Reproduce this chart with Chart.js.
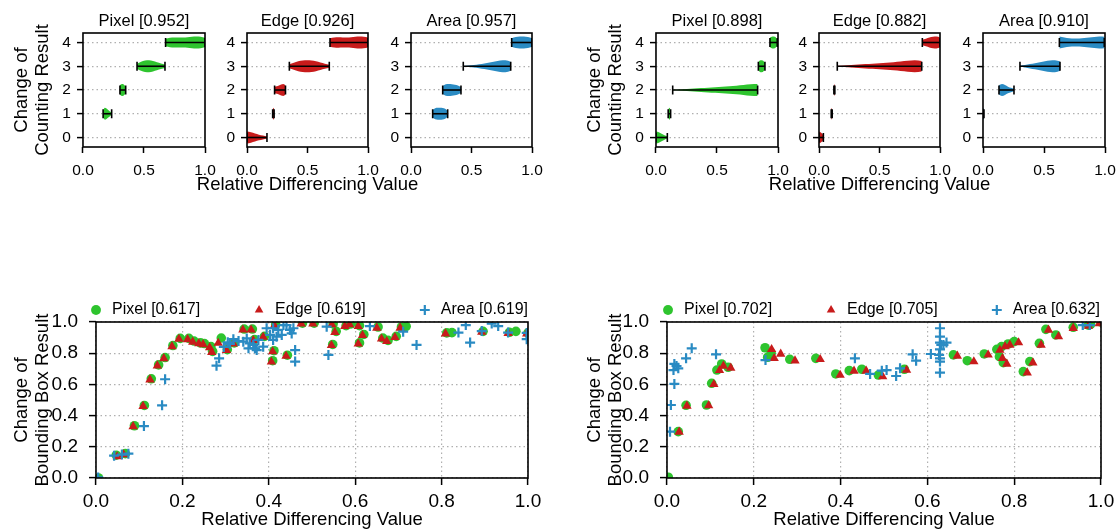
<!DOCTYPE html>
<html>
<head>
<meta charset="utf-8">
<script src="https://cdn.jsdelivr.net/npm/chart.js@4.4.1/dist/chart.umd.min.js"></script>
<style>
  html, body { margin: 0; padding: 0; background: #fff; width: 1118px; height: 531px; overflow: hidden; position: relative; }
  canvas { position: absolute; }
</style>
</head>
<body>
<script>
// ---------- shared ticks / labels ----------
const countLevels = [0, 1, 2, 3, 4];
const violinXTicks = [0, 0.5, 1.0];
const scatterTicks = [0, 0.2, 0.4, 0.6, 0.8, 1.0];
const violinTitles = ['Pixel [0.952]', 'Edge [0.926]', 'Area [0.957]', 'Pixel [0.898]', 'Edge [0.882]', 'Area [0.910]'];
const scatterLabelsA = ['Pixel [0.617]', 'Edge [0.619]', 'Area [0.619]'];
const scatterLabelsB = ['Pixel [0.702]', 'Edge [0.705]', 'Area [0.632]'];

// ---------- violins: extent (min/max) and half-width profile per counting change ----------
// half-widths are in count units, sampled evenly from min to max (0.25 = widest)
const pixelAMin = [null, 0.165, 0.303, 0.443, 0.677];
const pixelAMax = [null, 0.235, 0.350, 0.672, 1.000];
const pixelAShape = [null,
  [0.14, 0.25, 0.22, 0.16, 0.10, 0.05],
  [0.20, 0.25, 0.23, 0.14],
  [0.10, 0.19, 0.24, 0.25, 0.22, 0.17, 0.12, 0.07],
  [0.16, 0.20, 0.21, 0.21, 0.21, 0.22, 0.24, 0.25, 0.24, 0.20]];

const edgeAMin = [0.000, 0.212, 0.228, 0.350, 0.686];
const edgeAMax = [0.165, 0.224, 0.318, 0.680, 1.000];
const edgeAShape = [
  [0.25, 0.22, 0.17, 0.12, 0.08, 0.04],
  [0.18, 0.25, 0.18],
  [0.14, 0.16, 0.19, 0.23, 0.25, 0.20],
  [0.08, 0.15, 0.21, 0.24, 0.25, 0.24, 0.21, 0.16, 0.11, 0.06],
  [0.18, 0.21, 0.22, 0.21, 0.21, 0.22, 0.24, 0.25, 0.24, 0.21]];

const areaAMin = [null, 0.179, 0.262, 0.432, 0.832];
const areaAMax = [null, 0.303, 0.413, 0.824, 1.000];
const areaAShape = [null,
  [0.16, 0.23, 0.25, 0.25, 0.24, 0.21, 0.12],
  [0.17, 0.24, 0.25, 0.24, 0.22, 0.19, 0.12],
  [0.01, 0.03, 0.05, 0.08, 0.12, 0.16, 0.20, 0.24, 0.25, 0.19],
  [0.18, 0.23, 0.25, 0.25, 0.23, 0.18]];

const pixelBMin = [0.000, 0.100, 0.137, 0.839, 0.934];
const pixelBMax = [0.093, 0.120, 0.833, 0.893, 0.994];
const pixelBShape = [
  [0.25, 0.22, 0.16, 0.09, 0.04],
  [0.16, 0.25, 0.16],
  [0.01, 0.02, 0.04, 0.06, 0.08, 0.10, 0.12, 0.14, 0.16, 0.18, 0.21, 0.24, 0.25],
  [0.18, 0.25, 0.24, 0.15],
  [0.20, 0.25, 0.24, 0.14]];

const edgeBMin = [0.000, 0.101, 0.123, 0.151, 0.854];
const edgeBMax = [0.036, 0.109, 0.131, 0.849, 1.000];
const edgeBShape = [
  [0.25, 0.20, 0.10],
  [0.18, 0.25, 0.18],
  [0.18, 0.25, 0.18],
  [0.02, 0.03, 0.05, 0.07, 0.09, 0.11, 0.13, 0.15, 0.17, 0.20, 0.23, 0.25, 0.22],
  [0.12, 0.16, 0.21, 0.24, 0.25, 0.21]];

const areaBMin = [null, 0.000, 0.131, 0.303, 0.626];
const areaBMax = [null, 0.008, 0.254, 0.631, 0.994];
const areaBShape = [null,
  [0.18, 0.25, 0.18],
  [0.20, 0.25, 0.21, 0.14, 0.09, 0.05],
  [0.02, 0.05, 0.09, 0.13, 0.17, 0.21, 0.24, 0.25, 0.20],
  [0.25, 0.21, 0.18, 0.17, 0.17, 0.19, 0.21, 0.23, 0.25, 0.24]];

// ---------- bounding-box change vs relative differencing value ----------
const pixelAPoints = [[0.006,0.000],[0.047,0.146],[0.068,0.156],[0.089,0.335],[0.112,0.465],[0.128,0.636],[0.145,0.725],[0.160,0.772],[0.178,0.849],[0.195,0.895],[0.215,0.895],[0.227,0.878],[0.242,0.866],[0.251,0.862],[0.266,0.842],[0.270,0.812],[0.290,0.897],[0.304,0.823],[0.320,0.866],[0.343,0.955],[0.362,0.955],[0.367,0.887],[0.390,0.908],[0.409,0.752],[0.412,0.816],[0.416,0.982],[0.443,0.787],[0.478,0.993],[0.505,0.993],[0.548,0.856],[0.556,0.940],[0.549,0.988],[0.579,0.977],[0.590,0.988],[0.610,0.866],[0.620,0.920],[0.610,0.977],[0.653,0.968],[0.664,0.897],[0.676,0.882],[0.695,0.908],[0.707,0.968],[0.718,0.972],[0.812,0.930],[0.824,0.932],[0.896,0.940],[0.957,0.934],[0.972,0.940],[1.000,0.930]];
const edgeAPoints = [[0.049,0.137],[0.064,0.150],[0.086,0.330],[0.109,0.460],[0.125,0.630],[0.142,0.720],[0.157,0.766],[0.176,0.843],[0.192,0.890],[0.212,0.888],[0.224,0.872],[0.238,0.862],[0.248,0.856],[0.263,0.836],[0.268,0.806],[0.283,0.865],[0.302,0.818],[0.318,0.861],[0.340,0.950],[0.359,0.950],[0.364,0.882],[0.387,0.903],[0.406,0.745],[0.409,0.810],[0.413,0.977],[0.440,0.781],[0.475,0.988],[0.502,0.988],[0.545,0.850],[0.553,0.934],[0.546,0.983],[0.576,0.972],[0.587,0.983],[0.607,0.860],[0.617,0.914],[0.607,0.972],[0.650,0.962],[0.661,0.892],[0.673,0.876],[0.692,0.902],[0.704,0.962],[0.809,0.925],[0.893,0.935],[0.954,0.928],[0.997,0.925]];
const areaAPoints = [[0.005,0.004],[0.042,0.143],[0.060,0.150],[0.075,0.156],[0.111,0.333],[0.153,0.466],[0.160,0.633],[0.279,0.720],[0.285,0.767],[0.296,0.840],[0.305,0.870],[0.310,0.860],[0.318,0.890],[0.330,0.878],[0.341,0.874],[0.349,0.895],[0.353,0.831],[0.356,0.863],[0.364,0.853],[0.368,0.831],[0.372,0.820],[0.376,0.885],[0.387,0.842],[0.395,0.960],[0.403,0.917],[0.410,0.960],[0.410,0.885],[0.418,0.906],[0.422,0.949],[0.430,0.917],[0.434,0.980],[0.441,0.980],[0.449,0.949],[0.453,0.927],[0.457,0.960],[0.461,0.820],[0.461,0.746],[0.534,0.970],[0.538,0.789],[0.634,0.974],[0.711,0.938],[0.742,0.853],[0.839,0.932],[0.856,0.980],[0.866,0.868],[0.893,0.942],[0.916,0.990],[0.931,0.974],[0.954,0.932],[0.997,0.890],[0.997,0.930]];

const pixelBPoints = [[0.003,0.005],[0.026,0.297],[0.044,0.466],[0.091,0.468],[0.103,0.607],[0.115,0.692],[0.126,0.731],[0.141,0.710],[0.226,0.835],[0.232,0.774],[0.240,0.800],[0.283,0.761],[0.343,0.767],[0.389,0.667],[0.420,0.688],[0.449,0.697],[0.487,0.660],[0.547,0.697],[0.660,0.789],[0.692,0.752],[0.731,0.795],[0.760,0.825],[0.766,0.778],[0.775,0.739],[0.771,0.842],[0.786,0.859],[0.800,0.874],[0.821,0.682],[0.836,0.746],[0.858,0.863],[0.873,0.953],[0.896,0.917],[0.936,0.966],[0.971,0.980],[0.976,0.985],[1.000,1.000]];
const edgeBPoints = [[0.028,0.295],[0.046,0.462],[0.096,0.464],[0.108,0.600],[0.121,0.690],[0.130,0.718],[0.147,0.705],[0.241,0.825],[0.247,0.767],[0.262,0.795],[0.295,0.752],[0.353,0.761],[0.399,0.660],[0.431,0.686],[0.459,0.686],[0.497,0.650],[0.552,0.692],[0.669,0.782],[0.707,0.746],[0.740,0.789],[0.767,0.820],[0.773,0.767],[0.783,0.731],[0.779,0.842],[0.790,0.853],[0.810,0.868],[0.830,0.675],[0.843,0.739],[0.862,0.853],[0.879,0.949],[0.902,0.906],[0.936,0.960],[0.971,0.974],[0.996,0.990]];
const areaBPoints = [[0.007,0.297],[0.009,0.468],[0.017,0.603],[0.015,0.692],[0.022,0.718],[0.026,0.703],[0.017,0.731],[0.044,0.767],[0.057,0.831],[0.113,0.793],[0.227,0.756],[0.433,0.767],[0.468,0.667],[0.495,0.688],[0.506,0.692],[0.528,0.654],[0.537,0.703],[0.566,0.793],[0.574,0.752],[0.608,0.795],[0.629,0.960],[0.629,0.906],[0.629,0.868],[0.632,0.853],[0.629,0.825],[0.644,0.868],[0.637,0.853],[0.627,0.789],[0.629,0.767],[0.629,0.746],[0.629,0.675],[0.958,0.980],[0.974,0.980]];

// ---------- styling ----------
const GREEN = '#2ec42e';
const RED = '#c81b1b';
const BLUE = '#2a8bc3';
const GRID = '#b0b0b0';
const FONT = '"Liberation Sans", Arial, Helvetica, sans-serif';

Chart.defaults.font.family = FONT;
Chart.defaults.color = '#000';
Chart.defaults.animation = false;
Chart.defaults.plugins.tooltip.enabled = false;
Chart.defaults.plugins.legend.display = false;

function addCanvas(left, top, width, height) {
  const c = document.createElement('canvas');
  c.width = width; c.height = height;
  c.style.left = left + 'px'; c.style.top = top + 'px';
  c.style.width = width + 'px'; c.style.height = height + 'px';
  document.body.appendChild(c);
  return c;
}

// black box around every plot area
const framePlugin = {
  id: 'frame',
  afterDatasetsDraw(chart) {
    const {ctx, chartArea: a} = chart;
    ctx.save();
    ctx.strokeStyle = '#000';
    ctx.lineWidth = 1.6;
    ctx.strokeRect(a.left, a.top, a.right - a.left, a.bottom - a.top);
    ctx.restore();
  }
};

// invisible axis that only reserves room beside the plot
function spacerAxis(size) {
  return {
    type: 'linear', position: 'right', min: 0, max: 1, display: true,
    grid: {display: false, drawTicks: false}, border: {display: false},
    ticks: {display: false},
    afterFit: s => { s.width = size; }
  };
}

function fixedTicks(values) {
  return s => { s.ticks = values.map(v => ({value: v})); };
}

// ---------- violin panels ----------
function violinDatasets(mins, maxs, shapes, color) {
  const bodies = [], bars = [];
  countLevels.forEach((level, k) => {
    if (mins[k] === null) return;
    const widths = shapes[k];
    const step = (maxs[k] - mins[k]) / (widths.length - 1);
    const xs = widths.map((_, j) => mins[k] + step * j);
    const body = {
      xAxisID: 'x', yAxisID: 'y',
      borderWidth: 0, borderColor: 'transparent', pointRadius: 0,
      tension: 0.4, cubicInterpolationMode: 'monotone',
      backgroundColor: color, order: 1
    };
    bodies.push(Object.assign({}, body, {data: xs.map((x, j) => ({x, y: level + widths[j]})), fill: false}));
    bodies.push(Object.assign({}, body, {data: xs.map((x, j) => ({x, y: level - widths[j]})), fill: '-1'}));
    bars.push({
      xAxisID: 'x', yAxisID: 'y',
      data: [{x: mins[k], y: level}, {x: maxs[k], y: level}],
      borderColor: '#000', borderWidth: 1.6, fill: false, tension: 0,
      pointStyle: 'line', pointRotation: 90, pointRadius: 4.5,
      pointBorderWidth: 1.6, pointBorderColor: '#000', order: 0
    });
  });
  return bodies.concat(bars);
}

const violinPanels = [
  {title: violinTitles[0], l: 83,  r: 205,  kind: 'first',  mins: pixelAMin, maxs: pixelAMax, shapes: pixelAShape, color: GREEN},
  {title: violinTitles[1], l: 247, r: 368,  kind: 'middle', mins: edgeAMin,  maxs: edgeAMax,  shapes: edgeAShape,  color: RED},
  {title: violinTitles[2], l: 411, r: 532,  kind: 'last',   mins: areaAMin,  maxs: areaAMax,  shapes: areaAShape,  color: BLUE},
  {title: violinTitles[3], l: 656, r: 778,  kind: 'first',  mins: pixelBMin, maxs: pixelBMax, shapes: pixelBShape, color: GREEN},
  {title: violinTitles[4], l: 819, r: 940,  kind: 'middle', mins: edgeBMin,  maxs: edgeBMax,  shapes: edgeBShape,  color: RED},
  {title: violinTitles[5], l: 983, r: 1105, kind: 'last',   mins: areaBMin,  maxs: areaBMax,  shapes: areaBShape,  color: BLUE}
];

violinPanels.forEach(p => {
  let left, width, height, yw, padR;
  const xh = 33;
  const plugins = {
    title: {display: true, text: p.title, position: 'top', fullSize: false,
            font: {size: 16.5, weight: 'normal'}, color: '#000', padding: {top: 11.6, bottom: 1.6}},
    subtitle: {display: false}
  };
  const scales = {
    x: {
      type: 'linear', min: 0, max: 1,
      afterBuildTicks: fixedTicks(violinXTicks),
      ticks: {font: {size: 15.5}, padding: 8.2, maxRotation: 0, autoSkip: false, callback: v => v.toFixed(1)},
      grid: {drawOnChartArea: false, tickLength: 6, tickColor: '#000', tickWidth: 1.5},
      border: {display: false},
      afterFit: s => { s.height = xh; }
    },
    y: {
      type: 'linear', min: -0.4, max: 4.4,
      afterBuildTicks: fixedTicks(countLevels),
      ticks: {font: {size: 15.5}, padding: 6, callback: v => String(v)},
      grid: {color: GRID, lineWidth: 1.2, tickLength: 6, tickColor: '#000', tickWidth: 1.5},
      border: {display: false, dash: [1.5, 3]},
      afterFit: s => { s.width = yw; }
    }
  };
  if (p.kind === 'first') {
    left = p.l - 83; width = p.r + 24 - left; height = 180; yw = 29.35; padR = 24;
    plugins.subtitle = {display: true, text: ['Change of', 'Counting Result'], position: 'left', fullSize: true,
                        font: {size: 18.5, weight: 'normal', lineHeight: 1.14}, color: '#000', padding: {top: 11.45, bottom: 0}};
  } else if (p.kind === 'middle') {
    left = p.l - 62; width = p.r - p.l + 124; height = 197; yw = 62; padR = 0;
    plugins.subtitle = {display: true, text: 'Relative Differencing Value', position: 'bottom', fullSize: true,
                        font: {size: 18.5, weight: 'normal'}, color: '#000', padding: {top: -6.1, bottom: 0.9}};
    scales.padR = spacerAxis(62);
  } else {
    left = p.l - 45; width = p.r + 24 - left; height = 180; yw = 45; padR = 24;
  }
  new Chart(addCanvas(left, 0, width, height), {
    type: 'line',
    data: {datasets: violinDatasets(p.mins, p.maxs, p.shapes, p.color)},
    options: {
      responsive: false, maintainAspectRatio: false, devicePixelRatio: 1, events: [],
      layout: {padding: {left: 0, top: 0, bottom: 0, right: padR}},
      plugins, scales
    },
    plugins: [framePlugin]
  });
});

// ---------- scatter panels ----------
function scatterDatasets(labels, pixel, edge, area) {
  const toXY = pts => pts.map(([x, y]) => ({x, y}));
  return [
    {label: labels[0], data: toXY(pixel), xAxisID: 'x', yAxisID: 'y', pointStyle: 'circle', pointRadius: 4.8,
     backgroundColor: GREEN, borderColor: GREEN, borderWidth: 0, order: 2, clip: 0},
    {label: labels[1], data: toXY(edge), xAxisID: 'x', yAxisID: 'y', pointStyle: 'triangle', pointRadius: 5.4,
     backgroundColor: RED, borderColor: RED, borderWidth: 0, order: 1, clip: 0},
    {label: labels[2], data: toXY(area), xAxisID: 'x', yAxisID: 'y', pointStyle: 'cross', pointRadius: 5,
     backgroundColor: BLUE, borderColor: BLUE, borderWidth: 2.2, order: 0, clip: 0}
  ];
}

// the y-axis title box is kept narrow so the title may sit over the tick-label column
const scatterPanels = [
  {left: 0,   width: 616, titlePad: 11.15, titleTrim: -19.35, yw: 62, spacer: 88, labels: scatterLabelsA, pixel: pixelAPoints, edge: edgeAPoints, area: areaAPoints},
  {left: 580, width: 600, titlePad: 4.45,  titleTrim: -21.65, yw: 62, spacer: 79, labels: scatterLabelsB, pixel: pixelBPoints, edge: edgeBPoints, area: areaBPoints}
];

scatterPanels.forEach(p => {
  new Chart(addCanvas(p.left, 251, p.width, 298), {
    type: 'scatter',
    data: {datasets: scatterDatasets(p.labels, p.pixel, p.edge, p.area)},
    options: {
      responsive: false, maintainAspectRatio: false, devicePixelRatio: 1, events: [],
      layout: {padding: 0},
      plugins: {
        legend: {
          display: true, position: 'top', fullSize: true, maxHeight: 71,
          labels: {usePointStyle: true, boxWidth: 16, boxHeight: 7, padding: 51,
                   font: {size: 16}, color: '#000', sort: (a, b) => a.datasetIndex - b.datasetIndex}
        },
        title: {display: true, text: ['Change of', 'Bounding Box Result'], position: 'left', fullSize: true,
                font: {size: 18.5, weight: 'normal', lineHeight: 1.14}, color: '#000',
                padding: {top: p.titlePad, bottom: p.titleTrim}}
      },
      scales: {
        x: {
          type: 'linear', min: 0, max: 1,
          afterBuildTicks: fixedTicks(scatterTicks),
          ticks: {font: {size: 19}, padding: 5.3, maxRotation: 0, autoSkip: false, callback: v => v.toFixed(1)},
          grid: {color: GRID, lineWidth: 1.2, tickLength: 7, tickColor: '#000', tickWidth: 1.5},
          border: {display: false, dash: [1.5, 3]},
          title: {display: true, text: 'Relative Differencing Value', font: {size: 18.5, weight: 'normal'}, color: '#000',
                  padding: {top: 0, bottom: 17.9}},
          afterFit: s => { s.height = 71; }
        },
        y: {
          type: 'linear', min: 0, max: 1,
          afterBuildTicks: fixedTicks(scatterTicks),
          ticks: {font: {size: 19}, padding: 11, callback: v => v.toFixed(1)},
          grid: {color: GRID, lineWidth: 1.2, tickLength: 7, tickColor: '#000', tickWidth: 1.5},
          border: {display: false, dash: [1.5, 3]},
          afterFit: s => { s.width = p.yw; }
        },
        padR: spacerAxis(p.spacer)
      }
    },
    plugins: [framePlugin]
  });
});
</script>
</body>
</html>
